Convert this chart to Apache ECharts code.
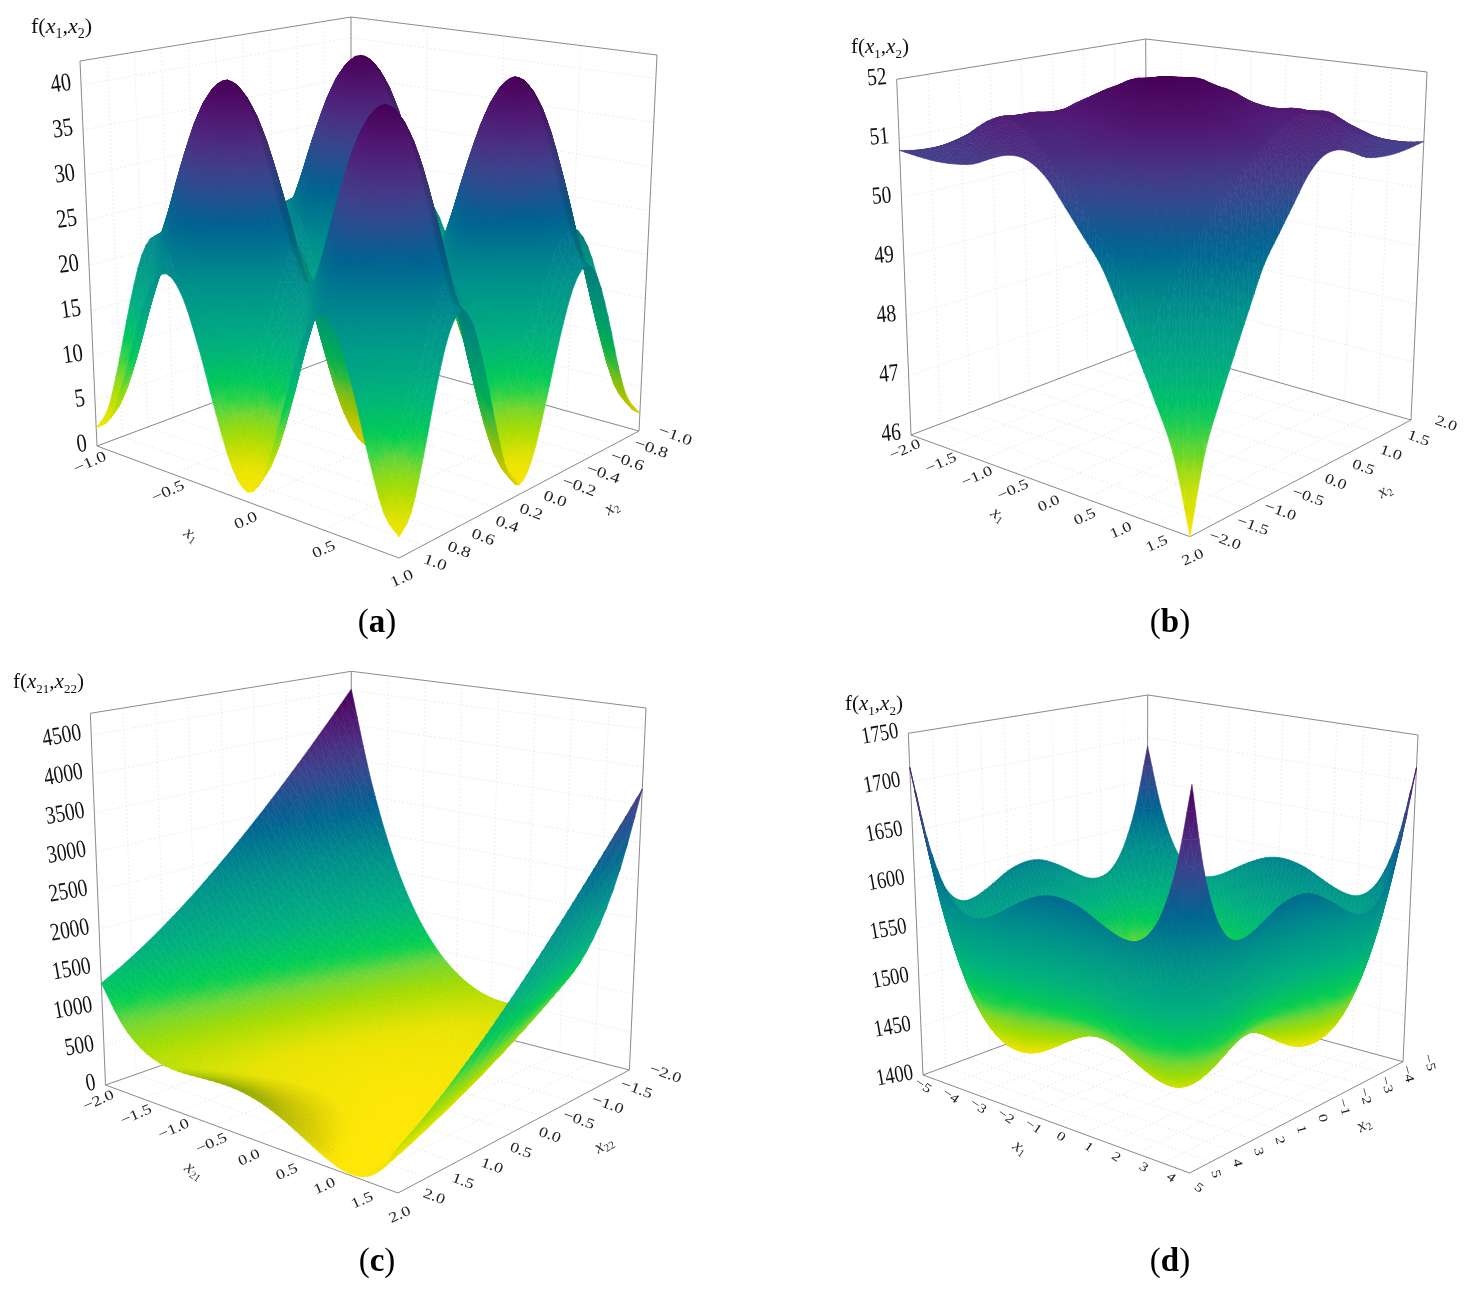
<!DOCTYPE html>
<html><head><meta charset="utf-8"><style>html,body{margin:0;padding:0;background:#fff}#c{width:1465px;height:1290px}</style>
<script src="https://cdn.jsdelivr.net/npm/echarts@6/dist/echarts.min.js"></script></head><body><div id="c"></div><script>
// ---- values: rows = x1 ascending, columns = x2 ascending ----
const zA=[
[2,3.7,8.6,14.6,19.5,21.3,19.3,14.2,8,2.9,1,2.9,8,14.2,19.3,21.3,19.5,14.6,8.6,3.7,2],
[3.7,5.4,10.3,16.3,21.2,23,21,15.9,9.7,4.6,2.7,4.6,9.7,15.9,21,23,21.2,16.3,10.3,5.4,3.7],
[8.6,10.3,15.2,21.2,26.1,27.9,25.9,20.8,14.6,9.5,7.6,9.5,14.6,20.8,25.9,27.9,26.1,21.2,15.2,10.3,8.6],
[14.6,16.3,21.2,27.2,32.1,33.9,31.9,26.8,20.6,15.5,13.6,15.5,20.6,26.8,31.9,33.9,32.1,27.2,21.2,16.3,14.6],
[19.5,21.2,26.1,32.1,37,38.8,36.8,31.7,25.5,20.4,18.5,20.4,25.5,31.7,36.8,38.8,37,32.1,26.1,21.2,19.5],
[21.3,23,27.9,33.9,38.8,40.6,38.6,33.5,27.3,22.2,20.3,22.2,27.3,33.5,38.6,40.6,38.8,33.9,27.9,23,21.3],
[19.3,21,25.9,31.9,36.8,38.6,36.6,31.5,25.3,20.2,18.3,20.2,25.3,31.5,36.6,38.6,36.8,31.9,25.9,21,19.3],
[14.2,15.9,20.8,26.8,31.7,33.5,31.5,26.4,20.2,15.1,13.2,15.1,20.2,26.4,31.5,33.5,31.7,26.8,20.8,15.9,14.2],
[8,9.7,14.6,20.6,25.5,27.3,25.3,20.2,14,8.9,7,8.9,14,20.2,25.3,27.3,25.5,20.6,14.6,9.7,8],
[2.9,4.6,9.5,15.5,20.4,22.2,20.2,15.1,8.9,3.8,1.9,3.8,8.9,15.1,20.2,22.2,20.4,15.5,9.5,4.6,2.9],
[1,2.7,7.6,13.6,18.5,20.3,18.3,13.2,7,1.9,0,1.9,7,13.2,18.3,20.3,18.5,13.6,7.6,2.7,1],
[2.9,4.6,9.5,15.5,20.4,22.2,20.2,15.1,8.9,3.8,1.9,3.8,8.9,15.1,20.2,22.2,20.4,15.5,9.5,4.6,2.9],
[8,9.7,14.6,20.6,25.5,27.3,25.3,20.2,14,8.9,7,8.9,14,20.2,25.3,27.3,25.5,20.6,14.6,9.7,8],
[14.2,15.9,20.8,26.8,31.7,33.5,31.5,26.4,20.2,15.1,13.2,15.1,20.2,26.4,31.5,33.5,31.7,26.8,20.8,15.9,14.2],
[19.3,21,25.9,31.9,36.8,38.6,36.6,31.5,25.3,20.2,18.3,20.2,25.3,31.5,36.6,38.6,36.8,31.9,25.9,21,19.3],
[21.3,23,27.9,33.9,38.8,40.6,38.6,33.5,27.3,22.2,20.3,22.2,27.3,33.5,38.6,40.6,38.8,33.9,27.9,23,21.3],
[19.5,21.2,26.1,32.1,37,38.8,36.8,31.7,25.5,20.4,18.5,20.4,25.5,31.7,36.8,38.8,37,32.1,26.1,21.2,19.5],
[14.6,16.3,21.2,27.2,32.1,33.9,31.9,26.8,20.6,15.5,13.6,15.5,20.6,26.8,31.9,33.9,32.1,27.2,21.2,16.3,14.6],
[8.6,10.3,15.2,21.2,26.1,27.9,25.9,20.8,14.6,9.5,7.6,9.5,14.6,20.8,25.9,27.9,26.1,21.2,15.2,10.3,8.6],
[3.7,5.4,10.3,16.3,21.2,23,21,15.9,9.7,4.6,2.7,4.6,9.7,15.9,21,23,21.2,16.3,10.3,5.4,3.7],
[2,3.7,8.6,14.6,19.5,21.3,19.3,14.2,8,2.9,1,2.9,8,14.2,19.3,21.3,19.5,14.6,8.6,3.7,2]];
const zB=[
[50.8,50.75,50.72,50.73,50.78,50.92,51.02,50.98,50.75,50.35,49.95,49.55,48.95,48.35,47.75,47.1,46],
[50.75,50.82,50.86,50.93,51.01,51.1,51.1,51.09,51.04,50.8,50.51,50.22,49.8,49.17,48.49,47.79,47.1],
[50.72,50.86,51.03,51.14,51.25,51.19,51.17,51.16,51.14,51.2,51.07,50.76,50.44,49.94,49.21,48.49,47.75],
[50.73,50.93,51.14,51.35,51.32,51.32,51.25,51.22,51.32,51.41,51.45,51.29,50.9,50.48,49.94,49.17,48.35],
[50.78,51.01,51.25,51.32,51.42,51.38,51.37,51.41,51.49,51.57,51.63,51.59,51.33,50.9,50.44,49.8,48.95],
[50.92,51.1,51.19,51.32,51.38,51.47,51.54,51.64,51.66,51.71,51.71,51.67,51.59,51.29,50.76,50.22,49.55],
[51.02,51.1,51.17,51.25,51.37,51.54,51.74,51.79,51.86,51.8,51.75,51.71,51.63,51.45,51.07,50.51,49.95],
[50.98,51.09,51.16,51.22,51.41,51.64,51.79,51.96,51.93,51.9,51.8,51.71,51.57,51.41,51.2,50.8,50.35],
[50.75,51.04,51.14,51.32,51.49,51.66,51.86,51.93,52,51.93,51.86,51.66,51.49,51.32,51.14,51.04,50.75],
[50.35,50.8,51.2,51.41,51.57,51.71,51.8,51.9,51.93,51.96,51.79,51.64,51.41,51.22,51.16,51.09,50.98],
[49.95,50.51,51.07,51.45,51.63,51.71,51.75,51.8,51.86,51.79,51.74,51.54,51.37,51.25,51.17,51.1,51.02],
[49.55,50.22,50.76,51.29,51.59,51.67,51.71,51.71,51.66,51.64,51.54,51.47,51.38,51.32,51.19,51.1,50.92],
[48.95,49.8,50.44,50.9,51.33,51.59,51.63,51.57,51.49,51.41,51.37,51.38,51.42,51.32,51.25,51.01,50.78],
[48.35,49.17,49.94,50.48,50.9,51.29,51.45,51.41,51.32,51.22,51.25,51.32,51.32,51.35,51.14,50.93,50.73],
[47.75,48.49,49.21,49.94,50.44,50.76,51.07,51.2,51.14,51.16,51.17,51.19,51.25,51.14,51.03,50.86,50.72],
[47.1,47.79,48.49,49.17,49.8,50.22,50.51,50.8,51.04,51.09,51.1,51.1,51.01,50.93,50.86,50.82,50.75],
[46,47.1,47.75,48.35,48.95,49.55,49.95,50.35,50.75,50.98,51.02,50.92,50.78,50.73,50.72,50.75,50.8]];
const zC=[
[4518,4223,3940,3670,3413,3168,2936,2717,2510,2316,2134,1965,1809,1665,1534,1416,1310],
[3336,3088,2852,2629,2418,2221,2035,1863,1703,1556,1421,1299,1189,1093,1008,937,878],
[2446,2239,2043,1861,1691,1534,1389,1258,1138,1032,937,856,787,731,687,657,638],
[1789,1616,1455,1307,1172,1049,938,842,756,684,624,577,543,521,511,515,531],
[1313,1168,1035,915,808,713,631,562,505,461,429,410,404,410,429,460,505],
[975,852,740,643,557,484,424,377,342,320,309,313,328,356,397,451,517],
[742,635,539,457,387,330,285,254,234,228,233,252,283,327,383,453,534],
[592,495,408,335,275,227,192,170,159,163,177,205,246,299,365,444,534],
[510,415,332,262,205,160,128,109,102,108,126,157,201,257,326,408,502],
[491,394,307,234,174,126,91,69,58,62,76,104,145,198,264,343,433],
[540,433,337,255,185,128,83,52,32,26,31,50,81,125,181,251,332],
[672,549,437,340,254,181,121,74,39,17,6,10,25,53,94,148,214],
[909,764,631,511,404,309,227,158,101,57,25,6,0,6,25,57,101],
[1284,1111,950,802,667,544,433,337,251,179,119,72,38,16,6,11,26],
[1840,1633,1437,1255,1085,928,783,652,532,426,331,250,181,125,81,51,32],
[2629,2381,2145,1922,1711,1514,1328,1156,996,849,714,592,482,386,301,230,171],
[3710,3415,3132,2862,2605,2360,2128,1909,1702,1508,1326,1157,1001,857,726,607,502]];
const zD=[
[1690,1622,1580,1558,1551,1553,1561,1571,1580,1587,1590,1589,1585,1578,1571,1566,1566,1576,1600,1644,1715],
[1622,1554,1512,1490,1483,1485,1493,1503,1512,1519,1522,1521,1517,1510,1503,1498,1498,1508,1532,1576,1647],
[1580,1512,1470,1448,1441,1443,1451,1461,1470,1477,1480,1479,1475,1468,1461,1456,1456,1466,1490,1534,1605],
[1558,1490,1448,1426,1419,1421,1429,1439,1448,1455,1458,1457,1453,1446,1439,1434,1434,1444,1468,1512,1583],
[1551,1483,1441,1419,1412,1414,1422,1432,1441,1448,1451,1450,1446,1439,1432,1427,1427,1437,1461,1505,1576],
[1553,1485,1443,1421,1414,1416,1424,1434,1443,1450,1453,1452,1448,1441,1434,1429,1429,1439,1463,1507,1578],
[1561,1493,1451,1429,1422,1424,1432,1442,1451,1458,1461,1460,1456,1449,1442,1437,1437,1447,1471,1515,1586],
[1571,1503,1461,1439,1432,1434,1442,1452,1461,1468,1471,1470,1466,1459,1452,1447,1447,1457,1481,1525,1596],
[1580,1512,1470,1448,1441,1443,1451,1461,1470,1477,1480,1479,1475,1468,1461,1456,1456,1466,1490,1534,1605],
[1587,1519,1477,1455,1448,1450,1458,1468,1477,1484,1487,1486,1482,1475,1468,1463,1463,1473,1497,1541,1612],
[1590,1522,1480,1458,1451,1453,1461,1471,1480,1487,1490,1489,1485,1478,1471,1466,1466,1476,1500,1544,1615],
[1589,1521,1479,1457,1450,1452,1460,1470,1479,1486,1489,1488,1484,1477,1470,1465,1465,1475,1499,1543,1614],
[1585,1517,1475,1453,1446,1448,1456,1466,1475,1482,1485,1484,1480,1473,1466,1461,1461,1471,1495,1539,1610],
[1578,1510,1468,1446,1439,1441,1449,1459,1468,1475,1478,1477,1473,1466,1459,1454,1454,1464,1488,1532,1603],
[1571,1503,1461,1439,1432,1434,1442,1452,1461,1468,1471,1470,1466,1459,1452,1447,1447,1457,1481,1525,1596],
[1566,1498,1456,1434,1427,1429,1437,1447,1456,1463,1466,1465,1461,1454,1447,1442,1442,1452,1476,1520,1591],
[1566,1498,1456,1434,1427,1429,1437,1447,1456,1463,1466,1465,1461,1454,1447,1442,1442,1452,1476,1520,1591],
[1576,1508,1466,1444,1437,1439,1447,1457,1466,1473,1476,1475,1471,1464,1457,1452,1452,1462,1486,1530,1601],
[1600,1532,1490,1468,1461,1463,1471,1481,1490,1497,1500,1499,1495,1488,1481,1476,1476,1486,1510,1554,1625],
[1644,1576,1534,1512,1505,1507,1515,1525,1534,1541,1544,1543,1539,1532,1525,1520,1520,1530,1554,1598,1669],
[1715,1647,1605,1583,1576,1578,1586,1596,1605,1612,1615,1614,1610,1603,1596,1591,1591,1601,1625,1669,1740]];
const zTicksA=[0,5,10,15,20,25,30,35,40];
const zTicksB=[46,47,48,49,50,51,52];
const zTicksC=[0,500,1000,1500,2000,2500,3000,3500,4000,4500];
const zTicksD=[1400,1450,1500,1550,1600,1650,1700,1750];
const x1TicksA=[-1,-0.5,0,0.5,1];
const x2TicksA=[-1,-0.8,-0.6,-0.4,-0.2,0,0.2,0.4,0.6,0.8,1];
const xTicksB=[-2,-1.5,-1,-0.5,0,0.5,1,1.5,2];
const xTicksC=[-2,-1.5,-1,-0.5,0,0.5,1,1.5,2];
const xTicksD=[-5,-4,-3,-2,-1,0,1,2,3,4,5];

// ---- layout ----
const panels=[
{z:zA,zr:[0,42.66],x1r:[-1,1],x2r:[-1,1],rev:true,zt:zTicksA,x1t:x1TicksA,x2t:x2TicksA,dec:1,shadeMin:.87,
 L:[97,446],F:[399,558],R:[639,431],B:[351,351],Lt:[80,61],Ft:[400,109],Rt:[657,55],Bt:[351,17],
 zFont:22,zRot:8,xFont:19,x1Rot:24,x2Rot:-20,o1a:[-7,17],o1b:[3,21],o2:[36,5],
 t1:['x','1',191,535],t2:['x','2',612,508],t1Rot:-35,t2Rot:30,
 title:['1','2',31,13,22],letter:['a',377,604]},
{z:zB,zr:[46,52],x1r:[-2,2],x2r:[-2,2],rev:false,zt:zTicksB,x1t:xTicksB,x2t:xTicksB,dec:1,shadeMin:1,
 L:[911,435],F:[1190,536.7],R:[1411,420],B:[1147,345],Lt:[896.7,79.3],Ft:[1195,116],Rt:[1427,72],Bt:[1145.7,39],
 zFont:21,zRot:5,xFont:18,x1Rot:24,x2Rot:-20,o1a:[-6,15],o1b:[3,21],o2:[35,4],
 t1:['x','1',998,515],t2:['x','2',1385,491],t1Rot:-35,t2Rot:30,
 title:['1','2',851,34,21],letter:['b',1170,604]},
{z:zC,zr:[0,4780],x1r:[-2,2],x2r:[-2,2],rev:true,zt:zTicksC,x1t:xTicksC,x2t:xTicksC,dec:1,shadeMin:.74,
 L:[105.5,1085],F:[398,1193],R:[629.4,1070],B:[351,999],Lt:[90.3,713.3],Ft:[400,760],Rt:[646,708],Bt:[351.3,671.3],
 zFont:21,zRot:10,xFont:18,x1Rot:24,x2Rot:-20,o1a:[-7,16],o1b:[2,22],o2:[36,4],
 t1:['x','21',194,1171],t2:['x','22',604,1145],t1Rot:-35,t2Rot:30,
 title:['21','22',13,669,21],letter:['c',377,1243]},
{z:zD,zr:[1400,1750],x1r:[-5,5],x2r:[-5,5],rev:true,zt:zTicksD,x1t:xTicksD,x2t:xTicksD,dec:0,shadeMin:1,
 L:[923,1075],F:[1189.6,1173],R:[1403,1061.7],B:[1147,992],Lt:[908.3,733.3],Ft:[1192,773],Rt:[1418,735],Bt:[1147.7,695],
 zFont:20,zRot:10,xFont:16,x1Rot:-35,x2Rot:-75,o1a:[0,11],o1b:[9,15],o2:[26,1],
 t1:['x','1',1020,1148],t2:['x','2',1364,1125],t1Rot:-35,t2Rot:30,
 title:['1','2',845,691,21],letter:['d',1170,1243]}];

const FONT='"Liberation Serif",serif';
const SUB=3; // each cell is drawn as a smooth patch of SUB x SUB facets through the read values
const scale=[[0,'#ffe600'],[.07,'#e8e300'],[.14,'#a2dc00'],[.2,'#6ad53c'],[.24,'#00d050'],[.35,'#00b080'],[.5,'#00908c'],[.65,'#005f92'],[.72,'#2a4f90'],[.8,'#453a88'],[.9,'#511a75'],[1,'#480058']]
 .map(d=>[d[0],[1,3,5].map(k=>parseInt(d[1].substr(k,2),16))]);
function colour(t,sh){
  t=Math.max(0,Math.min(1,t));let k=1;while(k<scale.length-1&&scale[k][0]<t)k++;
  const a=scale[k-1],b=scale[k],f=(t-a[0])/(b[0]-a[0]);
  const c=[0,1,2].map(n=>Math.round((a[1][n]+(b[1][n]-a[1][n])*f)*sh));
  return 'rgb('+c.join(',')+')';
}
function lerp(a,b,f){return [a[0]+(b[0]-a[0])*f,a[1]+(b[1]-a[1])*f];}
function project(p,s,t,w){
  const g=lerp(lerp(p.L,p.F,s),lerp(p.B,p.R,s),t);
  const h=lerp(lerp(p.Lt,p.Ft,s),lerp(p.Bt,p.Rt,s),t);
  return lerp(g,h,w);
}
const fmt=(v,dec)=>(v<0?'\u2212':'')+Math.abs(v).toFixed(dec);
// drawing mesh: a smooth curve through the read values (the same idea as smooth:true on a line)
function curve(arr,k){
  const out=[],n=arr.length;
  for(let i=0;i<n-1;i++){
    const a=i>0?arr[i-1]:2*arr[0]-arr[1],b=arr[i],c=arr[i+1],d=i<n-2?arr[i+2]:2*arr[n-1]-arr[n-2];
    for(let q=0;q<k;q++){const f=q/k;
      out.push(.5*(2*b+(c-a)*f+(2*a-5*b+4*c-d)*f*f+(3*b-a-3*c+d)*f*f*f));}
  }
  out.push(arr[n-1]);return out;
}
function drawMesh(z,k){
  const rows=z.map(r=>curve(r,k));const m=rows[0].length,cols=[];
  for(let j=0;j<m;j++)cols.push(curve(rows.map(r=>r[j]),k));
  return cols[0].map((_,i)=>cols.map(c=>c[i]));
}

function surfaceSeries(p,idx){
  const n=p.z.length,m=p.z[0].length,k=SUB,mesh=drawMesh(p.z,k);
  const zmin=Math.min(...p.z.map(r=>Math.min(...r))),zmax=Math.max(...p.z.map(r=>Math.max(...r)));
  const S=i=>i/((n-1)*k),T=j=>p.rev?1-j/((m-1)*k):j/((m-1)*k),W=v=>(v-p.zr[0])/(p.zr[1]-p.zr[0]);
  const cells=[];
  for(let i=0;i<n-1;i++)for(let j=0;j<m-1;j++)cells.push([i,j,(i+.5)/(n-1)-(p.rev?1-(j+.5)/(m-1):(j+.5)/(m-1))]);
  cells.sort((a,b)=>a[2]-b[2]);
  function tri(api,A,B,C){
    const vals=[A,B,C].map(q=>mesh[q[0]][q[1]]);
    const pts=[A,B,C].map((q,e)=>api.coord(project(p,S(q[0]),T(q[1]),W(vals[e]))));
    let sh=1;
    if(p.shadeMin<1){
      // facets whose surface climbs toward the viewer's edge turn away from the light
      const w3=[A,B,C].map((q,e)=>[S(q[0]),T(q[1]),W(vals[e])*1.1]);
      const u=[0,1,2].map(e=>w3[1][e]-w3[0][e]),v=[0,1,2].map(e=>w3[2][e]-w3[0][e]);
      let nx=u[1]*v[2]-u[2]*v[1],ny=u[2]*v[0]-u[0]*v[2],nz=u[0]*v[1]-u[1]*v[0];
      if(nz<0){nx=-nx;ny=-ny;nz=-nz;}
      const L=Math.hypot(nx,ny,nz)||1,f=Math.max(0,Math.min(1,(ny/L-.14)/.22));
      sh=1-(1-p.shadeMin)*f;
    }
    const tc=v0=>(v0-zmin)/(zmax-zmin);
    const vmin=Math.min(...vals),vmax=Math.max(...vals),dv=vmax-vmin;
    const x1=pts[1][0]-pts[0][0],y1=pts[1][1]-pts[0][1],x2=pts[2][0]-pts[0][0],y2=pts[2][1]-pts[0][1];
    const det=x1*y2-x2*y1,c1=vals[1]-vals[0],c2=vals[2]-vals[0];
    let fill;
    if(Math.abs(det)<.3||dv<1e-9){fill=colour(tc((vmin+vmax)/2),sh);}
    else{
      const a=(c1*y2-c2*y1)/det,b=(x1*c2-x2*c1)/det,q=dv/(a*a+b*b);
      const st=pts[vals.indexOf(vmin)];
      // gradient runs past the facet so that the seam stroke keeps the same colours
      fill=new echarts.graphic.LinearGradient(st[0]-a*q*.5,st[1]-b*q*.5,st[0]+a*q*1.5,st[1]+b*q*1.5,
        [{offset:0,color:colour(tc(vmin-dv*.5),sh)},{offset:.25,color:colour(tc(vmin),sh)},{offset:.75,color:colour(tc(vmax),sh)},{offset:1,color:colour(tc(vmax+dv*.5),sh)}],true);
    }
    return {type:'polygon',silent:true,shape:{points:pts},style:{fill:fill,stroke:fill,lineWidth:.6}};
  }
  return {type:'custom',name:'surface '+p.letter[0],xAxisIndex:idx,yAxisIndex:idx,clip:false,animation:false,progressive:0,silent:true,z:3,
    data:cells.map(c=>[c[0],c[1]]),
    renderItem:function(params,api){
      const i=api.value(0),j=api.value(1),ch=[];
      for(let a=0;a<k;a++)for(let bb=0;bb<k;bb++){
        const b=p.rev?bb:k-1-bb,I=i*k+a,J=j*k+b;
        ch.push(tri(api,[I,J],[I+1,J],[I,J+1]),tri(api,[I+1,J],[I+1,J+1],[I,J+1]));
      }
      return {type:'group',children:ch};
    }};
}
function frameSeries(p,idx){
  return {type:'custom',name:'axes '+p.letter[0],xAxisIndex:idx,yAxisIndex:idx,clip:false,animation:false,silent:true,z:2,data:[[0,0]],
    renderItem:function(params,api){
      const ch=[];
      const P=(s,t,w)=>api.coord(project(p,s,t,w));
      const line=(a,b,st)=>ch.push({type:'line',silent:true,shape:{x1:a[0],y1:a[1],x2:b[0],y2:b[1]},style:st});
      const grid={stroke:'#e9e9e9',lineWidth:1,lineDash:[1.5,2.5]},edge={stroke:'#8c8c8c',lineWidth:1};
      const sOf=v=>(v-p.x1r[0])/(p.x1r[1]-p.x1r[0]);
      const tOf=v=>{const f=(v-p.x2r[0])/(p.x2r[1]-p.x2r[0]);return p.rev?1-f:f;};
      const wOf=v=>(v-p.zr[0])/(p.zr[1]-p.zr[0]);
      p.x1t.forEach(v=>{const s=sOf(v);line(P(s,0,0),P(s,1,0),grid);line(P(s,1,0),P(s,1,1),grid);});
      p.x2t.forEach(v=>{const t=tOf(v);line(P(0,t,0),P(1,t,0),grid);line(P(0,t,0),P(0,t,1),grid);});
      p.zt.forEach(v=>{const w=wOf(v);line(P(0,0,w),P(0,1,w),grid);line(P(0,1,w),P(1,1,w),grid);});
      line(P(0,0,0),P(1,0,0),edge);line(P(1,0,0),P(1,1,0),edge);line(P(0,0,0),P(0,1,0),edge);line(P(0,1,0),P(1,1,0),edge);
      line(P(0,0,0),P(0,0,1),edge);line(P(0,1,0),P(0,1,1),edge);line(P(1,1,0),P(1,1,1),edge);
      line(P(0,0,1),P(0,1,1),edge);line(P(0,1,1),P(1,1,1),edge);
      const text=(q,str,font,rot,al,col,sx,sy)=>ch.push({type:'text',silent:true,x:q[0],y:q[1],rotation:rot*Math.PI/180,scaleX:sx,scaleY:sy,
        style:{text:str,fontFamily:FONT,fontSize:font,fill:col,align:al,verticalAlign:'middle'}});
      p.zt.forEach(v=>{const q=P(0,0,wOf(v));text([q[0]-10,q[1]-2],fmt(v,0),p.zFont,p.zRot,'right','#111',.93,1.18);});
      p.x1t.forEach(v=>{const s=sOf(v),q=P(s,0,0),o=lerp(p.o1a,p.o1b,s);text([q[0]+o[0],q[1]+o[1]],fmt(v,p.dec),p.xFont,p.x1Rot,'center','#222',1,.8);});
      p.x2t.forEach(v=>{const t=tOf(v),q=P(1,t,0);text([q[0]+p.o2[0],q[1]+p.o2[1]],fmt(v,p.dec),p.xFont,p.x2Rot,'center','#222',1,.8);});
      [[p.t1,p.t1Rot],[p.t2,p.t2Rot]].forEach(a=>{const T=a[0];
        ch.push({type:'text',silent:true,x:T[2],y:T[3],rotation:a[1]*Math.PI/180,
          style:{text:'{i|'+T[0]+'}{s|'+T[1]+'}',align:'center',verticalAlign:'middle',fill:'#333',
            rich:{i:{fontFamily:FONT,fontStyle:'italic',fontSize:18,lineHeight:20,fill:'#333'},s:{fontFamily:FONT,fontSize:11,lineHeight:11,verticalAlign:'bottom',fill:'#333'}}}});});
      return {type:'group',children:ch};
    }};
}
const titles=[];
panels.forEach(p=>{
  const T=p.title,fs=T[4],fsS=Math.round(fs*.62),mk=fs+6;
  titles.push({text:'{m|f(}{i|x}{s|'+T[0]+'}{m|,}{i|x}{s|'+T[1]+'}{m|)}',left:T[2],top:T[3],padding:0,
    textStyle:{fontWeight:'normal',rich:{m:{fontFamily:FONT,fontWeight:'normal',fontSize:fs,lineHeight:mk,color:'#111'},i:{fontFamily:FONT,fontWeight:'normal',fontStyle:'italic',fontSize:fs,lineHeight:mk,color:'#111'},
      s:{fontFamily:FONT,fontWeight:'normal',fontSize:fsS,lineHeight:fsS,verticalAlign:'bottom',color:'#111'}}}});
  titles.push({text:'{m|(}{b|'+p.letter[0]+'}{m|)}',left:p.letter[1],top:p.letter[2],textAlign:'center',padding:0,
    textStyle:{fontWeight:'normal',rich:{m:{fontFamily:FONT,fontWeight:'normal',fontSize:33,lineHeight:38,color:'#000'},b:{fontFamily:FONT,fontSize:33,fontWeight:'bold',lineHeight:38,color:'#000'}}}});
});
const boxes=[[0,0,730,640],[730,0,735,640],[0,640,730,650],[730,640,735,650]];
const series=[];
panels.forEach((p,i)=>{series.push(frameSeries(p,i));series.push(surfaceSeries(p,i));});
const chart=echarts.init(document.getElementById('c'),null,{renderer:'canvas'});
chart.setOption({backgroundColor:'#fff',animation:false,title:titles,tooltip:{show:false},
  grid:boxes.map(b=>({left:b[0],top:b[1],width:b[2],height:b[3],containLabel:false})),
  xAxis:boxes.map((b,i)=>({type:'value',gridIndex:i,min:b[0],max:b[0]+b[2],show:false})),
  yAxis:boxes.map((b,i)=>({type:'value',gridIndex:i,min:b[1],max:b[1]+b[3],inverse:true,show:false})),
  series:series});
</script></body></html>
